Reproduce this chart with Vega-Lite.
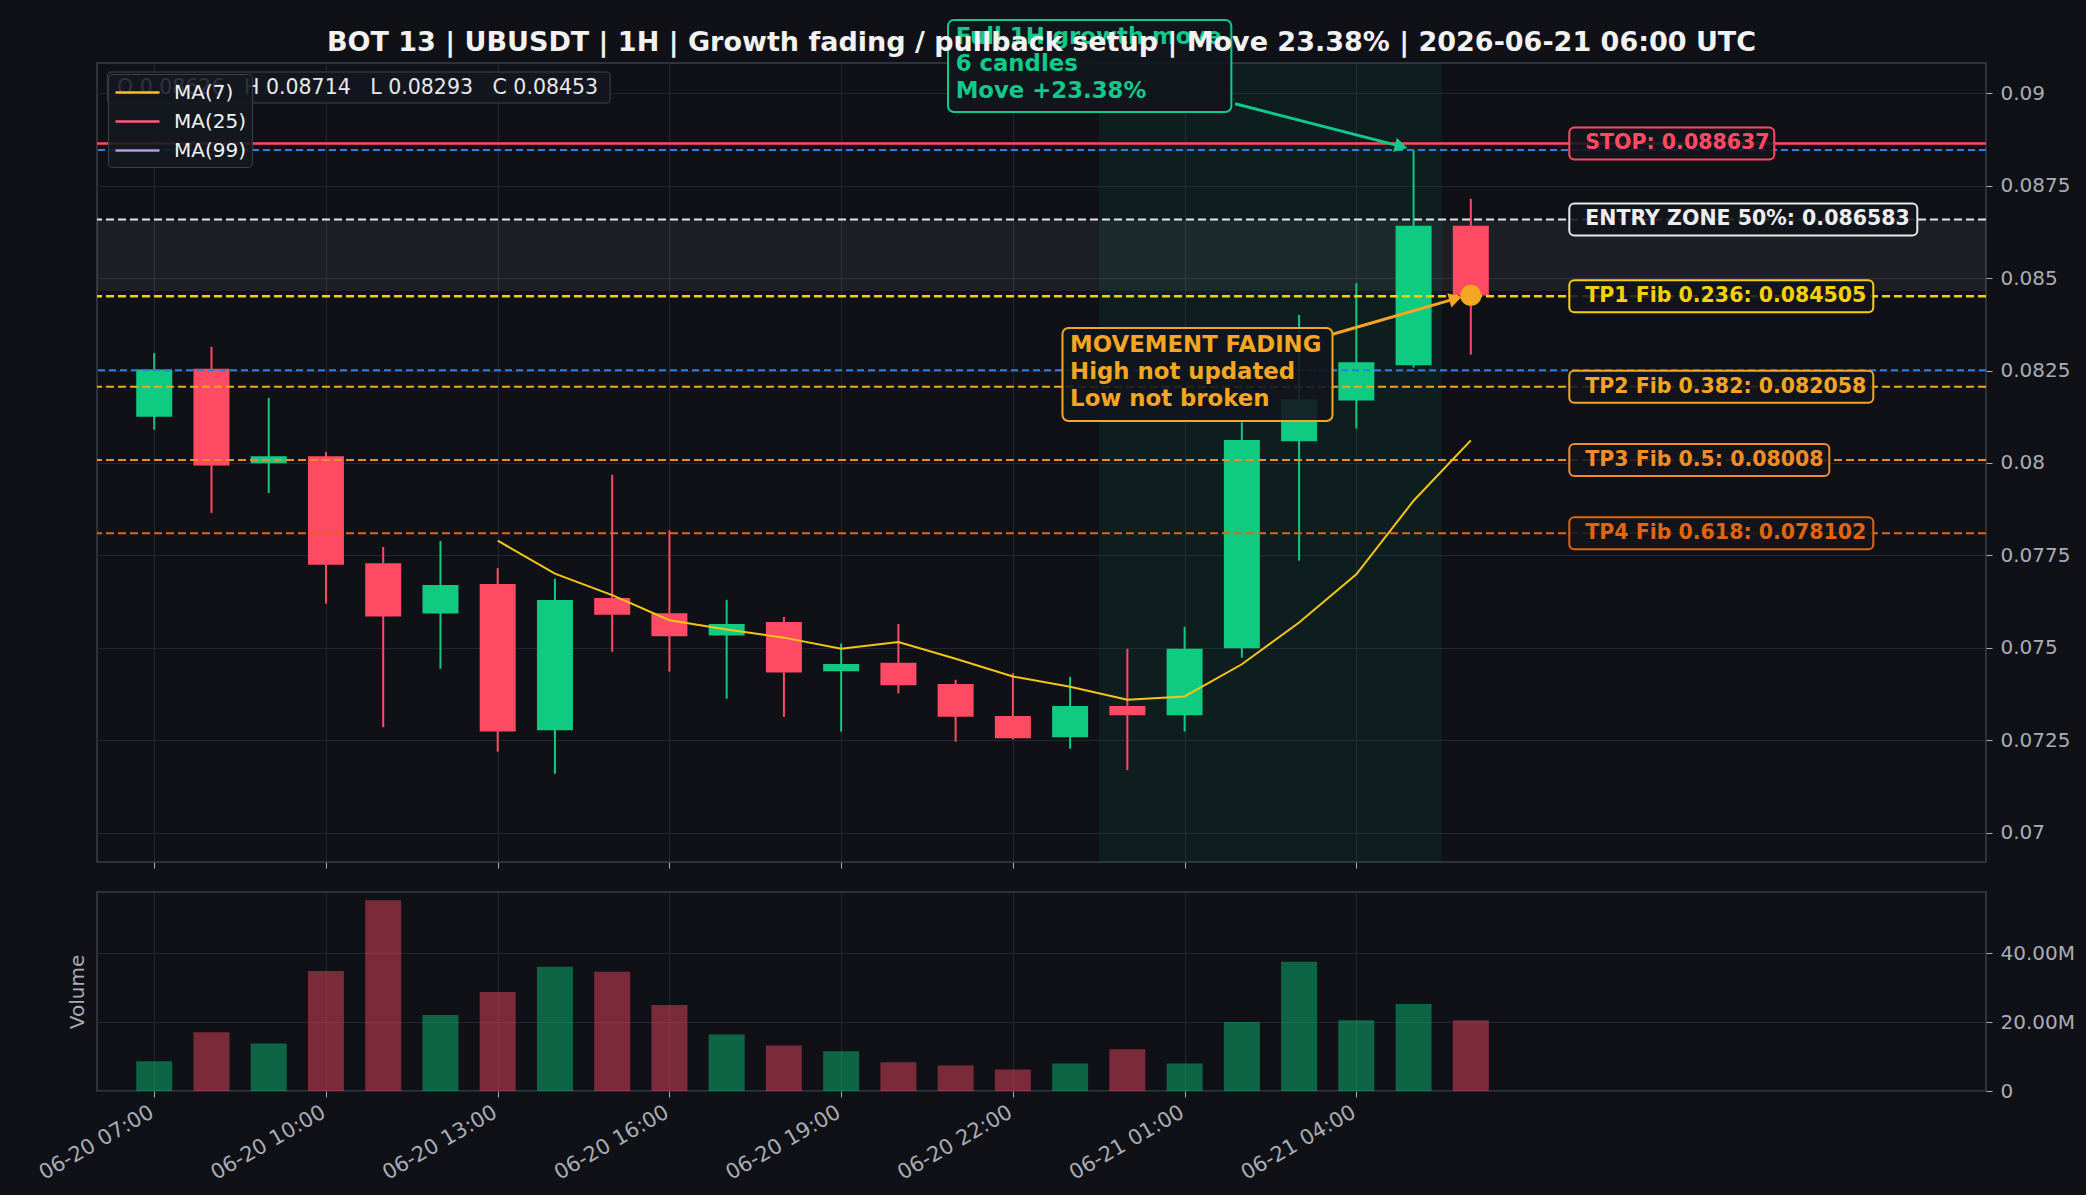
{
  "$schema": "https://vega.github.io/schema/vega-lite/v6.json",
  "background": "#0f1117",
  "padding": {"left": 34, "top": 18, "right": 10, "bottom": 10},
  "spacing": 21,
  "config": {
    "font": "DejaVu Sans",
    "view": {"stroke": "#3a3e47", "strokeWidth": 1.5},
    "axis": {"labelColor": "#a9adb5", "labelFontSize": 20, "labelFont": "DejaVu Sans", "tickColor": "#a9adb5", "gridColor": "#22262e", "gridWidth": 1, "domain": false, "tickSize": 6, "labelPadding": 8, "titleColor": "#a9adb5"}
  },
  "resolve": {"scale": {"color": "independent", "x": "independent", "y": "independent"}, "legend": {"color": "independent"}},
  "datasets": {
    "candles": [
      {"t": "2026-06-20T07:00:00Z", "open": 0.08125, "high": 0.08297, "low": 0.0809, "close": 0.08253, "volume": 8600000, "ma7": null},
      {"t": "2026-06-20T08:00:00Z", "open": 0.08255, "high": 0.08314, "low": 0.07865, "close": 0.07993, "volume": 17000000, "ma7": null},
      {"t": "2026-06-20T09:00:00Z", "open": 0.07999, "high": 0.08176, "low": 0.07919, "close": 0.08018, "volume": 13800000, "ma7": null},
      {"t": "2026-06-20T10:00:00Z", "open": 0.08018, "high": 0.0803, "low": 0.0762, "close": 0.07725, "volume": 34800000, "ma7": null},
      {"t": "2026-06-20T11:00:00Z", "open": 0.07729, "high": 0.07773, "low": 0.07286, "close": 0.07585, "volume": 55300000, "ma7": null},
      {"t": "2026-06-20T12:00:00Z", "open": 0.07593, "high": 0.07789, "low": 0.07444, "close": 0.0767, "volume": 22000000, "ma7": null},
      {"t": "2026-06-20T13:00:00Z", "open": 0.07673, "high": 0.07716, "low": 0.0722, "close": 0.07274, "volume": 28700000, "ma7": 0.0779},
      {"t": "2026-06-20T14:00:00Z", "open": 0.07278, "high": 0.07687, "low": 0.0716, "close": 0.0763, "volume": 36000000, "ma7": 0.07701},
      {"t": "2026-06-20T15:00:00Z", "open": 0.07635, "high": 0.07968, "low": 0.0749, "close": 0.0759, "volume": 34600000, "ma7": 0.07643},
      {"t": "2026-06-20T16:00:00Z", "open": 0.07594, "high": 0.07818, "low": 0.07436, "close": 0.07532, "volume": 24900000, "ma7": 0.07575},
      {"t": "2026-06-20T17:00:00Z", "open": 0.07534, "high": 0.0763, "low": 0.07363, "close": 0.07565, "volume": 16400000, "ma7": 0.0755},
      {"t": "2026-06-20T18:00:00Z", "open": 0.0757, "high": 0.07584, "low": 0.07314, "close": 0.07434, "volume": 13200000, "ma7": 0.07528},
      {"t": "2026-06-20T19:00:00Z", "open": 0.07437, "high": 0.07512, "low": 0.07274, "close": 0.07457, "volume": 11500000, "ma7": 0.07498},
      {"t": "2026-06-20T20:00:00Z", "open": 0.0746, "high": 0.07565, "low": 0.07377, "close": 0.07399, "volume": 8300000, "ma7": 0.07516},
      {"t": "2026-06-20T21:00:00Z", "open": 0.07403, "high": 0.07414, "low": 0.07247, "close": 0.07314, "volume": 7400000, "ma7": 0.07471},
      {"t": "2026-06-20T22:00:00Z", "open": 0.07316, "high": 0.07432, "low": 0.07253, "close": 0.07256, "volume": 6200000, "ma7": 0.07423},
      {"t": "2026-06-20T23:00:00Z", "open": 0.07259, "high": 0.07422, "low": 0.07228, "close": 0.07343, "volume": 8000000, "ma7": 0.07395},
      {"t": "2026-06-21T00:00:00Z", "open": 0.07343, "high": 0.07498, "low": 0.0717, "close": 0.07318, "volume": 12100000, "ma7": 0.0736},
      {"t": "2026-06-21T01:00:00Z", "open": 0.07318, "high": 0.07557, "low": 0.07274, "close": 0.07498, "volume": 8000000, "ma7": 0.07369},
      {"t": "2026-06-21T02:00:00Z", "open": 0.07499, "high": 0.0811, "low": 0.07474, "close": 0.08062, "volume": 20000000, "ma7": 0.07456},
      {"t": "2026-06-21T03:00:00Z", "open": 0.08059, "high": 0.084, "low": 0.07736, "close": 0.08172, "volume": 37500000, "ma7": 0.07569},
      {"t": "2026-06-21T04:00:00Z", "open": 0.08169, "high": 0.08486, "low": 0.08093, "close": 0.08272, "volume": 20500000, "ma7": 0.07699},
      {"t": "2026-06-21T05:00:00Z", "open": 0.08264, "high": 0.08846, "low": 0.08258, "close": 0.08641, "volume": 25200000, "ma7": 0.07898},
      {"t": "2026-06-21T06:00:00Z", "open": 0.08641, "high": 0.08714, "low": 0.08293, "close": 0.08453, "volume": 20500000, "ma7": 0.08061}
    ],
    "levels": [
      {"name": "STOP", "price": 0.088637, "label": "STOP: 0.088637"},
      {"name": "MOVE_HIGH", "price": 0.08846, "label": null},
      {"name": "ENTRY", "price": 0.086583, "label": "ENTRY ZONE 50%: 0.086583"},
      {"name": "TP1", "price": 0.084505, "label": "TP1 Fib 0.236: 0.084505"},
      {"name": "REF", "price": 0.08251, "label": null},
      {"name": "TP2", "price": 0.082058, "label": "TP2 Fib 0.382: 0.082058"},
      {"name": "TP3", "price": 0.08008, "label": "TP3 Fib 0.5: 0.08008"},
      {"name": "TP4", "price": 0.078102, "label": "TP4 Fib 0.618: 0.078102"}
    ],
    "one": [{}]
  },
  "vconcat": [
    {
      "width": 1889,
      "height": 799,
      "title": {"text": "BOT 13 | UBUSDT | 1H | Growth fading / pullback setup | Move 23.38% | 2026-06-21 06:00 UTC", "anchor": "middle", "frame": "group", "fontSize": 27, "font": "DejaVu Sans", "fontWeight": "bold", "color": "#f2f2f2", "offset": -38},
      "layer": [
        {
          "data": {"name": "one"},
          "mark": {"type": "rect", "fill": "#0ecb81", "opacity": 0.07},
          "encoding": {
            "x": {"datum": {"year": 2026, "month": 6, "date": 20, "hours": 23, "minutes": 30, "utc": true}, "type": "temporal",
              "scale": {"type": "utc", "padding": 0, "domain": [{"year": 2026, "month": 6, "date": 20, "hours": 6, "utc": true}, {"year": 2026, "month": 6, "date": 21, "hours": 15, "utc": true}]},
              "axis": {"title": null, "labels": false, "grid": true, "ticks": true,
                "values": [{"year": 2026, "month": 6, "date": 20, "hours": 7, "utc": true}, {"year": 2026, "month": 6, "date": 20, "hours": 10, "utc": true}, {"year": 2026, "month": 6, "date": 20, "hours": 13, "utc": true}, {"year": 2026, "month": 6, "date": 20, "hours": 16, "utc": true}, {"year": 2026, "month": 6, "date": 20, "hours": 19, "utc": true}, {"year": 2026, "month": 6, "date": 20, "hours": 22, "utc": true}, {"year": 2026, "month": 6, "date": 21, "hours": 1, "utc": true}, {"year": 2026, "month": 6, "date": 21, "hours": 4, "utc": true}]}},
            "x2": {"datum": {"year": 2026, "month": 6, "date": 21, "hours": 5, "minutes": 30, "utc": true}}
          }
        },
        {
          "data": {"name": "one"},
          "mark": {"type": "rect", "fill": "#ffffff", "opacity": 0.06},
          "encoding": {
            "y": {"datum": 0.086583, "type": "quantitative",
              "scale": {"domain": [0.069216, 0.090811], "nice": false, "zero": false, "padding": 0},
              "axis": {"orient": "right", "title": null, "grid": true, "labelExpr": "format(datum.value, '~g')", "values": [0.07, 0.0725, 0.075, 0.0775, 0.08, 0.0825, 0.085, 0.0875, 0.09]}},
            "y2": {"datum": 0.08465}
          }
        },
        {
          "data": {"name": "candles"},
          "mark": {"type": "rule", "strokeWidth": 2},
          "encoding": {
            "x": {"field": "t", "type": "temporal"},
            "y": {"field": "low", "type": "quantitative"},
            "y2": {"field": "high"},
            "color": {"condition": {"test": "datum.close >= datum.open", "value": "#0ecb81"}, "value": "#ff4a63"}
          }
        },
        {
          "data": {"name": "candles"},
          "mark": {"type": "bar", "width": 36},
          "encoding": {
            "x": {"field": "t", "type": "temporal"},
            "y": {"field": "open", "type": "quantitative"},
            "y2": {"field": "close"},
            "color": {"condition": {"test": "datum.close >= datum.open", "value": "#0ecb81"}, "value": "#ff4a63"}
          }
        },
        {
          "data": {"name": "levels"},
          "mark": {"type": "rule"},
          "encoding": {
            "y": {"field": "price", "type": "quantitative"},
            "stroke": {"field": "name", "type": "nominal", "legend": null,
              "scale": {"domain": ["STOP", "MOVE_HIGH", "ENTRY", "TP1", "REF", "TP2", "TP3", "TP4"], "range": ["#ff4a63", "#2e7de9", "#e8e8e8", "#f5d10d", "#2e7de9", "#f5a524", "#f28c28", "#e4640e"]}},
            "strokeDash": {"field": "name", "type": "nominal", "legend": null,
              "scale": {"domain": ["STOP", "MOVE_HIGH", "ENTRY", "TP1", "REF", "TP2", "TP3", "TP4"], "range": [[1, 0], [7, 4], [8, 4], [8, 4], [7, 4], [8, 4], [8, 4], [8, 4]]}},
            "strokeWidth": {"condition": {"test": "datum.name === 'STOP' || datum.name === 'TP1'", "value": 2.6}, "value": 2}
          }
        },
        {
          "data": {"name": "candles"},
          "transform": [{"filter": "isValid(datum.ma7)"}],
          "mark": {"type": "line", "strokeWidth": 2},
          "encoding": {
            "x": {"field": "t", "type": "temporal"},
            "y": {"field": "ma7", "type": "quantitative"},
            "color": {"datum": "MA(7)", "type": "nominal",
              "scale": {"domain": ["MA(7)", "MA(25)", "MA(99)"], "range": ["#f5c518", "#ff5a7a", "#b39ddb"]},
              "legend": {"orient": "top-left", "offset": 11, "title": null, "fillColor": "rgba(20,24,32,0.88)", "strokeColor": "#3a3e47", "cornerRadius": 4, "padding": 6, "symbolType": "M-1,0H3", "symbolSize": 484, "symbolStrokeWidth": 2.5, "labelFontSize": 20, "labelColor": "#f2f2f2", "labelOffset": 35, "rowPadding": 6, "labelFont": "DejaVu Sans"}}
          }
        },
        {
          "data": {"name": "one"},
          "mark": {"type": "rect", "fill": "#141820", "fillOpacity": 0.85, "stroke": "#30343d", "strokeWidth": 1.5, "cornerRadius": 4},
          "encoding": {
            "x": {"datum": {"year": 2026, "month": 6, "date": 20, "hours": 6, "minutes": 11, "utc": true}, "type": "temporal"},
            "x2": {"datum": {"year": 2026, "month": 6, "date": 20, "hours": 14, "minutes": 58, "utc": true}},
            "y": {"datum": 0.090567, "type": "quantitative"},
            "y2": {"datum": 0.089729}
          }
        },
        {
          "data": {"name": "one"},
          "mark": {"type": "text", "align": "left", "baseline": "middle", "fontSize": 20.5, "font": "DejaVu Sans", "color": "#e8e8e8"},
          "encoding": {
            "x": {"datum": {"year": 2026, "month": 6, "date": 20, "hours": 6, "minutes": 21, "utc": true}, "type": "temporal"},
            "y": {"datum": 0.090143, "type": "quantitative"},
            "text": {"value": "O 0.08626\u00a0\u00a0\u00a0H 0.08714\u00a0\u00a0\u00a0L 0.08293\u00a0\u00a0\u00a0C 0.08453"}
          }
        },
        {
          "data": {"name": "one"},
          "mark": {"type": "rule", "strokeWidth": 3, "color": "#10c98a"},
          "encoding": {
            "x": {"datum": {"year": 2026, "month": 6, "date": 21, "hours": 1, "minutes": 53, "utc": true}, "type": "temporal"},
            "x2": {"datum": {"year": 2026, "month": 6, "date": 21, "hours": 4, "minutes": 48, "utc": true}},
            "y": {"datum": 0.08971, "type": "quantitative"},
            "y2": {"datum": 0.08855}
          }
        },
        {
          "data": {"name": "one"},
          "mark": {"type": "point", "shape": "triangle-right", "filled": true, "size": 220, "angle": 14.4, "color": "#10c98a", "opacity": 1},
          "encoding": {
            "x": {"datum": {"year": 2026, "month": 6, "date": 21, "hours": 4, "minutes": 47, "utc": true}, "type": "temporal"},
            "y": {"datum": 0.088555, "type": "quantitative"}
          }
        },
        {
          "data": {"name": "one"},
          "mark": {"type": "rect", "fill": "#12161d", "fillOpacity": 0.9, "stroke": "#10c98a", "strokeWidth": 2, "cornerRadius": 6},
          "encoding": {
            "x": {"datum": {"year": 2026, "month": 6, "date": 20, "hours": 20, "minutes": 52, "utc": true}, "type": "temporal"},
            "x2": {"datum": {"year": 2026, "month": 6, "date": 21, "hours": 1, "minutes": 49, "utc": true}},
            "y": {"datum": 0.091972, "type": "quantitative"},
            "y2": {"datum": 0.089486}
          }
        },
        {
          "data": {"name": "one"},
          "mark": {"type": "text", "align": "left", "baseline": "middle", "fontSize": 22.8, "fontWeight": "bold", "font": "DejaVu Sans", "color": "#10c98a", "lineBreak": "\n", "lineHeight": 27},
          "encoding": {
            "x": {"datum": {"year": 2026, "month": 6, "date": 20, "hours": 21, "minutes": 0, "utc": true}, "type": "temporal"},
            "y": {"datum": 0.091513, "type": "quantitative"},
            "text": {"value": "Full 1H growth move\n6 candles\nMove +23.38%"}
          }
        },
        {
          "data": {"name": "one"},
          "mark": {"type": "rule", "strokeWidth": 3, "color": "#f5a623"},
          "encoding": {
            "x": {"datum": {"year": 2026, "month": 6, "date": 21, "hours": 3, "minutes": 35, "utc": true}, "type": "temporal"},
            "x2": {"datum": {"year": 2026, "month": 6, "date": 21, "hours": 5, "minutes": 45, "utc": true}},
            "y": {"datum": 0.083479, "type": "quantitative"},
            "y2": {"datum": 0.08445}
          }
        },
        {
          "data": {"name": "one"},
          "mark": {"type": "point", "shape": "triangle-right", "filled": true, "size": 220, "angle": -15.9, "color": "#f5a623", "opacity": 1},
          "encoding": {
            "x": {"datum": {"year": 2026, "month": 6, "date": 21, "hours": 5, "minutes": 44, "utc": true}, "type": "temporal"},
            "y": {"datum": 0.084446, "type": "quantitative"}
          }
        },
        {
          "data": {"name": "one"},
          "mark": {"type": "point", "shape": "circle", "filled": true, "size": 450, "color": "#f5a623", "opacity": 1},
          "encoding": {
            "x": {"datum": {"year": 2026, "month": 6, "date": 21, "hours": 6, "utc": true}, "type": "temporal"},
            "y": {"datum": 0.08453, "type": "quantitative"}
          }
        },
        {
          "data": {"name": "one"},
          "mark": {"type": "rect", "fill": "#12161d", "fillOpacity": 0.9, "stroke": "#f5a623", "strokeWidth": 2, "cornerRadius": 6},
          "encoding": {
            "x": {"datum": {"year": 2026, "month": 6, "date": 20, "hours": 22, "minutes": 52, "utc": true}, "type": "temporal"},
            "x2": {"datum": {"year": 2026, "month": 6, "date": 21, "hours": 3, "minutes": 35, "utc": true}},
            "y": {"datum": 0.083649, "type": "quantitative"},
            "y2": {"datum": 0.081136}
          }
        },
        {
          "data": {"name": "one"},
          "mark": {"type": "text", "align": "left", "baseline": "middle", "fontSize": 22.8, "fontWeight": "bold", "font": "DejaVu Sans", "color": "#f5a623", "lineBreak": "\n", "lineHeight": 27},
          "encoding": {
            "x": {"datum": {"year": 2026, "month": 6, "date": 20, "hours": 23, "minutes": 0, "utc": true}, "type": "temporal"},
            "y": {"datum": 0.08319, "type": "quantitative"},
            "text": {"value": "MOVEMENT FADING\nHigh not updated\nLow not broken"}
          }
        },
        {
          "data": {"name": "levels"},
          "transform": [{"filter": "datum.name === 'STOP'"}],
          "mark": {"type": "rect", "width": 205, "height": 32, "xOffset": 86.5, "fill": "#12151c", "fillOpacity": 0.88, "strokeWidth": 2, "cornerRadius": 5},
          "encoding": {"x": {"datum": {"year": 2026, "month": 6, "date": 21, "hours": 8, "utc": true}, "type": "temporal"}, "y": {"field": "price", "type": "quantitative"}, "stroke": {"field": "name", "type": "nominal", "legend": null}}
        },
        {
          "data": {"name": "levels"},
          "transform": [{"filter": "datum.name === 'ENTRY'"}],
          "mark": {"type": "rect", "width": 348, "height": 32, "xOffset": 158, "fill": "#12151c", "fillOpacity": 0.88, "strokeWidth": 2, "cornerRadius": 5},
          "encoding": {"x": {"datum": {"year": 2026, "month": 6, "date": 21, "hours": 8, "utc": true}, "type": "temporal"}, "y": {"field": "price", "type": "quantitative"}, "stroke": {"field": "name", "type": "nominal", "legend": null}}
        },
        {
          "data": {"name": "levels"},
          "transform": [{"filter": "datum.name === 'TP1' || datum.name === 'TP2' || datum.name === 'TP4'"}],
          "mark": {"type": "rect", "width": 304, "height": 32, "xOffset": 136, "fill": "#12151c", "fillOpacity": 0.88, "strokeWidth": 2, "cornerRadius": 5},
          "encoding": {"x": {"datum": {"year": 2026, "month": 6, "date": 21, "hours": 8, "utc": true}, "type": "temporal"}, "y": {"field": "price", "type": "quantitative"}, "stroke": {"field": "name", "type": "nominal", "legend": null}}
        },
        {
          "data": {"name": "levels"},
          "transform": [{"filter": "datum.name === 'TP3'"}],
          "mark": {"type": "rect", "width": 260, "height": 32, "xOffset": 114, "fill": "#12151c", "fillOpacity": 0.88, "strokeWidth": 2, "cornerRadius": 5},
          "encoding": {"x": {"datum": {"year": 2026, "month": 6, "date": 21, "hours": 8, "utc": true}, "type": "temporal"}, "y": {"field": "price", "type": "quantitative"}, "stroke": {"field": "name", "type": "nominal", "legend": null}}
        },
        {
          "data": {"name": "levels"},
          "transform": [{"filter": "isValid(datum.label)"}],
          "mark": {"type": "text", "align": "left", "baseline": "middle", "font": "DejaVu Sans", "fontWeight": "bold", "fontSize": 20.5},
          "encoding": {
            "x": {"datum": {"year": 2026, "month": 6, "date": 21, "hours": 8, "utc": true}, "type": "temporal"},
            "y": {"field": "price", "type": "quantitative"},
            "text": {"field": "label"},
            "fill": {"field": "name", "type": "nominal", "legend": null,
              "scale": {"domain": ["STOP", "MOVE_HIGH", "ENTRY", "TP1", "REF", "TP2", "TP3", "TP4"], "range": ["#ff4a63", "#2e7de9", "#eeeeee", "#f5d10d", "#2e7de9", "#f5a524", "#f28c28", "#e4640e"]}}
          }
        }
      ]
    },
    {
      "width": 1889,
      "height": 199,
      "data": {"name": "candles"},
      "layer": [
        {
          "mark": {"type": "bar", "width": 36, "opacity": 0.45},
          "encoding": {
            "x": {"field": "t", "type": "temporal",
              "scale": {"type": "utc", "padding": 0, "domain": [{"year": 2026, "month": 6, "date": 20, "hours": 6, "utc": true}, {"year": 2026, "month": 6, "date": 21, "hours": 15, "utc": true}]},
              "axis": {"title": null, "grid": true, "format": "%m-%d %H:%M", "labelAngle": -30, "labelAlign": "right", "labelBaseline": "top", "labelPadding": 4, "labelOffset": -8, "labelFontSize": 21,
                "values": [{"year": 2026, "month": 6, "date": 20, "hours": 7, "utc": true}, {"year": 2026, "month": 6, "date": 20, "hours": 10, "utc": true}, {"year": 2026, "month": 6, "date": 20, "hours": 13, "utc": true}, {"year": 2026, "month": 6, "date": 20, "hours": 16, "utc": true}, {"year": 2026, "month": 6, "date": 20, "hours": 19, "utc": true}, {"year": 2026, "month": 6, "date": 20, "hours": 22, "utc": true}, {"year": 2026, "month": 6, "date": 21, "hours": 1, "utc": true}, {"year": 2026, "month": 6, "date": 21, "hours": 4, "utc": true}]}},
            "y": {"field": "volume", "type": "quantitative",
              "scale": {"domain": [0, 57700000], "nice": false},
              "axis": {"orient": "right", "title": null, "grid": true, "values": [0, 20000000, 40000000], "labelExpr": "datum.value === 0 ? '0' : format(datum.value / 1000000, '.2f') + 'M'"}},
            "color": {"condition": {"test": "datum.close >= datum.open", "value": "#0ecb81"}, "value": "#ff4a63"}
          }
        },
        {
          "data": {"name": "one"},
          "mark": {"type": "rule", "opacity": 0},
          "encoding": {
            "y": {"datum": 0, "type": "quantitative",
              "axis": {"orient": "left", "title": "Volume", "labels": false, "ticks": false, "grid": false, "domain": false, "titleFontSize": 20, "titleFontWeight": "normal", "titleColor": "#a9adb5", "titlePadding": 10}}
          }
        }
      ],
      "resolve": {"axis": {"y": "independent"}}
    }
  ]
}
